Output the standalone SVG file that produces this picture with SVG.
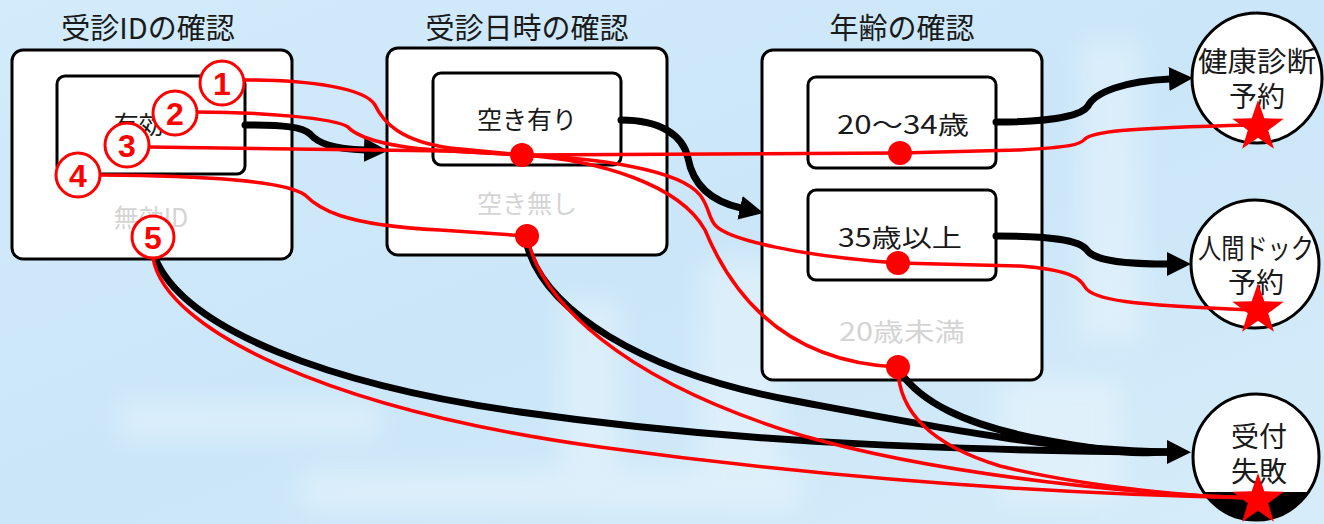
<svg xmlns="http://www.w3.org/2000/svg" width="1324" height="524" viewBox="0 0 1324 524">
  <style>
    .t { font-family: "Noto Sans CJK JP", "Liberation Sans", sans-serif; fill: #1a1a1a; text-anchor: middle; }
    .title { font-size: 29px; }
    .in { font-size: 25px; }
    .gray { fill: #d4d4d4; }
    .ct { font-size: 28px; }
    .outer { fill: #ffffff; stroke: #000; stroke-width: 3; }
    .inner { fill: #ffffff; stroke: #000; stroke-width: 3; }
    .node { fill: #ffffff; stroke: #000; stroke-width: 3; }
    .blk { fill: none; stroke: #000; stroke-width: 7; stroke-linecap: round; stroke-linejoin: round; }
    .red { fill: none; stroke: #ff0000; stroke-width: 3.5; stroke-linecap: round; stroke-linejoin: round; }
    .dot { fill: #ff0000; }
    .num { fill: #ffffff; stroke: #ff0000; stroke-width: 3; }
    .numt { font-family: "Liberation Sans", "Noto Sans", sans-serif; font-weight: bold; font-size: 32px; fill: #ff0000; text-anchor: middle; }
    .star { fill: #ff0000; }
  </style>
  <defs>
    <linearGradient id="bg" x1="0" y1="0" x2="1" y2="1">
      <stop offset="0" stop-color="#d3ebfb"/>
      <stop offset="0.5" stop-color="#cae6f8"/>
      <stop offset="1" stop-color="#d6ecf9"/>
    </linearGradient>
    <filter id="blur" x="-20%" y="-20%" width="140%" height="140%">
      <feGaussianBlur stdDeviation="12"/>
    </filter>
    <marker id="ah" markerUnits="userSpaceOnUse" viewBox="0 0 24 24" refX="1" refY="12" markerWidth="24" markerHeight="24" orient="auto">
      <path d="M0,0 L24,12 L0,24 Z" fill="#000"/>
    </marker>
    <polygon id="starShape" points="0,-27 6.3,-8.7 25.7,-8.3 10.2,3.3 15.9,21.8 0,10.8 -15.9,21.8 -10.2,3.3 -25.7,-8.3 -6.3,-8.7"/>
  </defs>

  <!-- background -->
  <rect x="0" y="0" width="1324" height="524" fill="url(#bg)"/>
  <g opacity="0.3" filter="url(#blur)" fill="#ffffff">
    <rect x="120" y="400" width="260" height="40"/>
    <rect x="560" y="300" width="60" height="200"/>
    <rect x="700" y="260" width="80" height="240"/>
    <rect x="1080" y="40" width="60" height="300"/>
    <rect x="300" y="470" width="500" height="40"/>
    <rect x="1000" y="380" width="120" height="120"/>
  </g>

  <!-- box: 受診IDの確認 -->
  <g id="box-id">
    <text class="t title" x="148" y="39">受診IDの確認</text>
    <rect class="outer" x="12" y="50" width="280" height="209" rx="11"/>
    <rect class="inner" x="57" y="76" width="188" height="98" rx="8"/>
    <text class="t in" x="151" y="134">有効ID</text>
    <text class="t in gray" x="151" y="227">無効ID</text>
  </g>

  <!-- box: 受診日時の確認 -->
  <g id="box-date">
    <text class="t title" x="527" y="39">受診日時の確認</text>
    <rect class="outer" x="387" y="48" width="280" height="207" rx="11"/>
    <rect class="inner" x="433" y="73" width="188" height="92" rx="8"/>
    <text class="t in" x="527" y="129">空き有り</text>
    <text class="t in gray" x="527" y="213">空き無し</text>
  </g>

  <!-- box: 年齢の確認 -->
  <g id="box-age">
    <text class="t title" x="902" y="39">年齢の確認</text>
    <rect class="outer" x="762" y="50" width="280" height="330" rx="11"/>
    <rect class="inner" x="808" y="77" width="188" height="91" rx="8"/>
    <text class="t in" x="903" y="134" textLength="132" lengthAdjust="spacingAndGlyphs">20〜34歳</text>
    <rect class="inner" x="808" y="190" width="188" height="90" rx="8"/>
    <text class="t in" x="900" y="247" textLength="124" lengthAdjust="spacingAndGlyphs">35歳以上</text>
    <text class="t in gray" x="902" y="341" textLength="126" lengthAdjust="spacingAndGlyphs">20歳未満</text>
  </g>

  <!-- result nodes -->
  <g id="node-kenshin">
    <circle class="node" cx="1257" cy="78" r="65"/>
    <text class="t ct" x="1257" y="72" textLength="118" lengthAdjust="spacingAndGlyphs">健康診断</text>
    <text class="t ct" x="1257" y="107">予約</text>
  </g>
  <g id="node-dock">
    <circle class="node" cx="1255" cy="264" r="64"/>
    <text class="t ct" x="1256" y="259" textLength="116" lengthAdjust="spacingAndGlyphs">人間ドック</text>
    <text class="t ct" x="1256" y="293">予約</text>
  </g>
  <g id="node-fail">
    <circle class="node" cx="1256" cy="457" r="63"/>
    <path d="M1203.6,492 A63,63 0 0,0 1308.4,492 Z" fill="#000"/>
    <text class="t ct" x="1259" y="447">受付</text>
    <text class="t ct" x="1259" y="482">失敗</text>
  </g>

  <!-- connectors -->
  <g id="connectors">
    <!-- black flow arrows -->
    <path class="blk" d="M245,125 C285,125 303,127 310,134 C318,143 332,149 365,150" marker-end="url(#ah)"/>
    <path class="blk" d="M621,120 C660,120 683,135 688,158 C692,180 705,200 741,208" marker-end="url(#ah)"/>
    <path class="blk" d="M996,122 C1040,122 1080,118 1088,106 C1095,92 1125,81 1170,79" marker-end="url(#ah)"/>
    <path class="blk" d="M996,236 C1050,236 1080,240 1087,250 C1095,262 1130,264 1168,264" marker-end="url(#ah)"/>
    <path class="blk" d="M155,258 C185,330 330,385 520,412 S900,450 1168,452" marker-end="url(#ah)"/>
    <path class="blk" d="M527,245 C545,310 640,372 790,400 S1050,450 1168,452"/>
    <path class="blk" d="M900,372 C920,400 960,425 1050,441 S1140,452 1168,452"/>

    <!-- red scenario paths -->
    <path class="red" d="M244,80 C310,80 365,88 375,105 C383,122 400,141 450,148 L522,155 C600,160 680,185 705,230 C730,290 780,362 898,367 C898,400 915,440 1000,466 C1090,488 1200,497 1255,498"/>
    <path class="red" d="M197,112 C260,112 335,118 348,127 C358,138 390,148 450,151 L522,155 C600,158 680,170 700,195 C710,208 708,218 716,226 C730,240 800,256 898,263 L1020,266 C1070,270 1080,278 1085,287 C1092,300 1130,305 1252,310"/>
    <path class="red" d="M149,147 L450,151 L522,155 L900,153 L1020,150 C1070,147 1080,145 1085,139 C1092,132 1120,128 1252,125"/>
    <path class="red" d="M100,175 C200,176 285,180 305,195 C318,208 340,225 440,230 L527,236 C540,300 620,380 800,435 C950,478 1150,495 1255,498"/>
    <path class="red" d="M153,258 C165,330 330,410 600,447 S1100,495 1255,498"/>
  </g>

  <!-- branch points -->
  <g id="points">
    <circle class="dot" cx="522" cy="155" r="12"/>
    <circle class="dot" cx="527" cy="236" r="12"/>
    <circle class="dot" cx="900" cy="153" r="12"/>
    <circle class="dot" cx="898" cy="263" r="12"/>
    <circle class="dot" cx="898" cy="367" r="12"/>
  </g>

  <!-- numbered scenarios -->
  <g id="scenario-1"><circle class="num" cx="222" cy="83" r="22"/><text class="numt" x="222" y="95">1</text></g>
  <g id="scenario-2"><circle class="num" cx="175" cy="113" r="22"/><text class="numt" x="175" y="125">2</text></g>
  <g id="scenario-3"><circle class="num" cx="127" cy="145" r="22"/><text class="numt" x="127" y="157">3</text></g>
  <g id="scenario-4"><circle class="num" cx="78" cy="175" r="22"/><text class="numt" x="78" y="187">4</text></g>
  <g id="scenario-5"><circle class="num" cx="153" cy="237" r="21"/><text class="numt" x="153" y="249">5</text></g>

  <!-- goal stars -->
  <g id="stars" class="star">
    <use href="#starShape" x="1258" y="127"/>
    <use href="#starShape" x="1258" y="310"/>
    <use href="#starShape" x="1258" y="500"/>
  </g>
</svg>
